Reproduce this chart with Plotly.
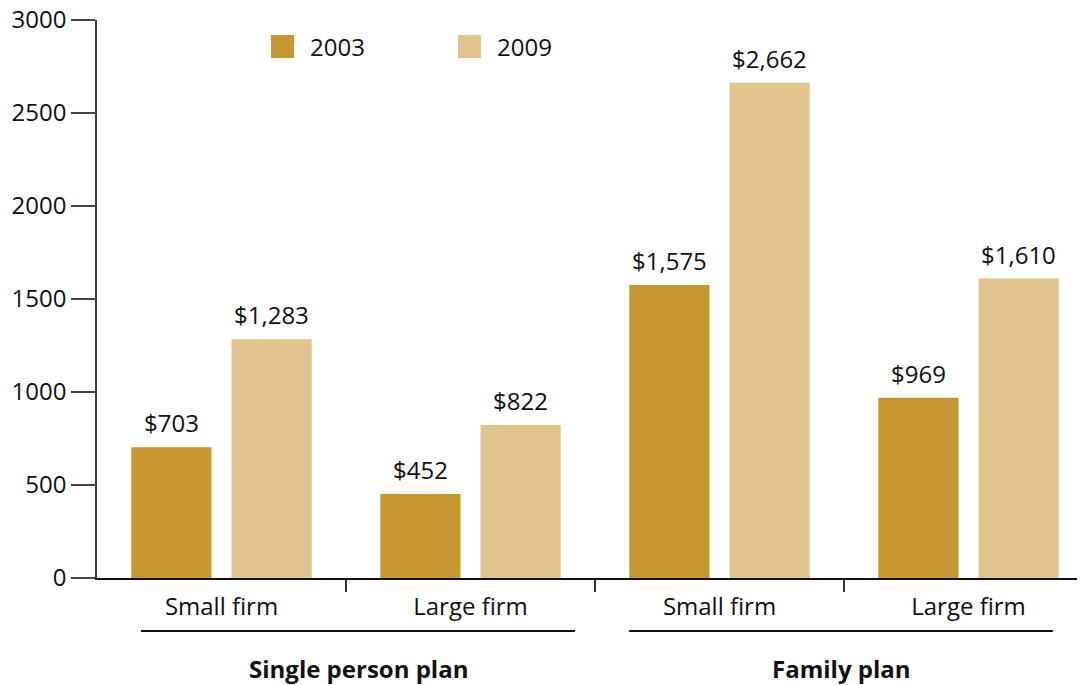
import plotly.graph_objects as go

categories = ["Small firm", "Large firm", "Small firm", "Large firm"]
groups = ["Single person plan", "Family plan"]
years = ["2003", "2009"]
values_2003 = [703, 452, 1575, 969]
values_2009 = [1283, 822, 2662, 1610]
colors = ["#C6972E", "#E0C48C"]
y_ticks = [0, 500, 1000, 1500, 2000, 2500, 3000]

FONT = "Open Sans"
FS = 24
BARGAP = 0.195
fig = go.Figure()
xpos = list(range(len(categories)))
series = [values_2003, values_2009]
slot = (1 - BARGAP) / len(series)
for k, (yr, vals, col) in enumerate(zip(years, series, colors)):
    fig.add_trace(go.Bar(
        x=xpos, y=vals, name=yr, marker=dict(color=col, line=dict(width=0)),
        showlegend=False,
    ))
    off = (k - (len(series) - 1) / 2) * slot
    for i, v in zip(xpos, vals):
        fig.add_annotation(xref="x", yref="y", x=i + off, y=v, yanchor="bottom",
                           xanchor="center", yshift=6, text=f"${v:,}", showarrow=False,
                           font=dict(size=FS, family=FONT, color="#111"))

# manual legend (large square swatches)
legend_pos = [(0.1747, 0.2118), (0.3624, 0.3996)]
for (sx, tx), yr, col in zip(legend_pos, years, colors):
    fig.add_shape(type="rect", xref="paper", yref="paper", x0=sx, x1=sx + 0.0231,
                  y0=0.9319, y1=0.9731, fillcolor=col, line=dict(width=0))
    fig.add_annotation(xref="paper", yref="paper", x=tx, y=0.9534, xanchor="left",
                       yanchor="middle", text=yr, showarrow=False,
                       font=dict(size=FS, family=FONT, color="#111"))

# group underlines and labels
group_spans = [(-0.323, 1.42), (1.637, 3.339)]
for (x0, x1), g in zip(group_spans, groups):
    fig.add_shape(type="line", xref="x", yref="paper", x0=x0, x1=x1,
                  y0=-0.095, y1=-0.095, line=dict(color="#111", width=2))
    fig.add_annotation(xref="x", yref="paper", x=(x0 + x1) / 2, y=-0.163,
                       xanchor="center", yanchor="middle",
                       text=f"<b>{g}</b>", showarrow=False,
                       font=dict(size=FS, family=FONT, color="#111"))

fig.update_layout(
    width=1085, height=685,
    margin=dict(l=89, r=0, t=12, b=115, autoexpand=False),
    paper_bgcolor="white", plot_bgcolor="white",
    font=dict(family=FONT, size=FS, color="#111"),
    barmode="group", bargap=BARGAP, bargroupgap=0.2,
    showlegend=False,
    xaxis=dict(range=[-0.5, 3.5], tickmode="array", tickvals=xpos, ticktext=categories,
               ticks="", showline=True, linecolor="#111", linewidth=2, automargin=False,
               showgrid=False, zeroline=False, ticklabelstandoff=6,
               minor=dict(tickmode="array", tickvals=[0.5, 1.5, 2.5], ticks="outside",
                          ticklen=12, tickwidth=1.5, tickcolor="#333", showgrid=False)),
    yaxis=dict(range=[0, 3000], tickvals=y_ticks, ticks="outside", ticklen=24,
               tickwidth=1.5, tickcolor="#444", showline=True, linecolor="#444",
               linewidth=1.5, showgrid=False, zeroline=False, ticklabelstandoff=0,
               ticklabeloverflow="allow", automargin=False),
)
fig.write_html("out.html")
